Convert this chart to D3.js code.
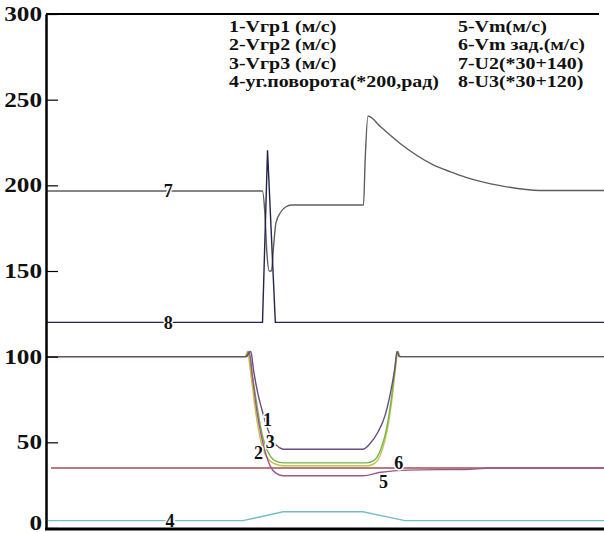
<!DOCTYPE html>
<html>
<head>
<meta charset="utf-8">
<script src="https://cdn.jsdelivr.net/npm/d3@7"></script>
<style>
  body { margin: 0; background: #fff; overflow: hidden; }
  svg { display: block; }
</style>
</head>
<body>
<script>
const width = 604
const height = 533
const margin = {top: 14, right: 0, bottom: 5, left: 46}
const serif = "'Liberation Serif', 'Times New Roman', Times, serif"

// time, s
const yTicks = [0, 50, 100, 150, 200, 250, 300]

// 1 - Vгр1
const t1 = [0, 3.58, 3.67, 3.72, 3.80, 3.87, 3.97, 4.08, 4.18, 4.25, 5.68, 5.80, 5.95, 6.08, 6.18, 6.25, 6.29, 6.33, 10]
const v1 = [100, 100, 103, 92, 78, 69, 58, 50, 47, 46, 46, 49, 56, 66, 80, 93, 103, 100, 100]
// 2 - Vгр2
const t2 = [0, 3.57, 3.61, 3.67, 3.74, 3.81, 3.89, 3.99, 4.10, 4.25, 5.77, 5.90, 6.02, 6.12, 6.20, 6.26, 6.31, 6.35, 10]
const v2 = [100, 100, 103, 90, 72, 57, 46, 40, 37.5, 36.3, 36.3, 38, 45, 58, 75, 92, 103, 100, 100]
// 3 - Vгр3
const t3 = [0, 3.58, 3.63, 3.69, 3.77, 3.84, 3.92, 4.02, 4.12, 4.25, 5.74, 5.88, 6.00, 6.11, 6.19, 6.25, 6.30, 6.34, 10]
const v3 = [100, 100, 103, 91, 74, 60, 49, 42, 39, 38, 38, 39.5, 46, 59, 76, 92, 103, 100, 100]
// 4 - угол поворота
const t4 = [0.04, 3.53, 4.25, 5.68, 6.43, 10]
const v4 = [4.3, 4.3, 9.5, 9.5, 4.3, 4.3]
// 5 - Vm
const t5 = [0, 3.60, 3.64, 3.70, 3.78, 3.87, 3.95, 4.02, 4.12, 4.25, 5.68, 6.00, 6.50, 7.60, 8.00, 10]
const v5 = [100, 100, 103, 88, 68, 52, 42, 36, 32, 30.5, 30.5, 32.5, 33.8, 34.3, 35, 35]
// 6 - Vm зад.
const t6 = [0.09, 10]
const v6 = [35, 35]
// 7 - U2
const t7 = [0, 3.88, 3.92, 3.96, 4.00, 4.04, 4.08, 4.12, 4.20, 4.30, 4.40, 5.69, 5.72, 5.77, 6.00, 6.34, 6.94, 7.24, 7.54, 8.14, 8.85, 10]
const v7 = [196.7, 196.7, 185, 160, 150, 150, 165, 178, 184, 187.5, 188.5, 188.5, 215, 240.5, 234, 224.6, 212, 208, 204.5, 199.8, 197, 197]
// 8 - U3
const t8 = [0, 3.88, 3.97, 4.11, 10]
const v8 = [120, 120, 220.5, 120, 120]

const legendLeft = ["1-Vгр1 (м/с)", "2-Vгр2 (м/с)", "3-Vгр3 (м/с)", "4-уг.поворота(*200,рад)"]
const legendRight = ["5-Vm(м/с)", "6-Vm зад.(м/с)", "7-U2(*30+140)", "8-U3(*30+120)"]

const series = [
  {t: t4, v: v4, color: "#74bccb", curve: d3.curveLinear},
  {t: t6, v: v6, color: "#9c5252", curve: d3.curveLinear},
  {t: t2, v: v2, color: "#c4c244", curve: d3.curveMonotoneX},
  {t: t3, v: v3, color: "#74b64e", curve: d3.curveMonotoneX},
  {t: t5, v: v5, color: "#a05588", curve: d3.curveMonotoneX},
  {t: t1, v: v1, color: "#6a4c80", curve: d3.curveMonotoneX},
  {t: t7, v: v7, color: "#5e5e5e", curve: d3.curveMonotoneX},
  {t: t8, v: v8, color: "#23234c", curve: d3.curveLinear}
]

// curve labels: name, t, value
const labels = [
  {name: "7", t: 2.19, v: 196.7},
  {name: "8", t: 2.19, v: 120},
  {name: "4", t: 2.22, v: 4.3},
  {name: "1", t: 3.97, v: 63},
  {name: "3", t: 4.02, v: 50.5},
  {name: "2", t: 3.81, v: 44.2},
  {name: "6", t: 6.32, v: 38.3},
  {name: "5", t: 6.05, v: 27.2}
]

var svg = d3.select("body").append("svg")
            .attr("width", width)
            .attr("height", height)

var x = d3.scaleLinear().domain([0, 10]).range([margin.left, width])
var y = d3.scaleLinear().domain([0, 300]).range([528, margin.top])

series.forEach(s => {
  var line = d3.line()
               .x(d => x(d[0]))
               .y(d => y(d[1]))
               .curve(s.curve)
  svg.append("path")
     .datum(d3.zip(s.t, s.v))
     .attr("d", line)
     .attr("fill", "none")
     .attr("stroke", s.color)
     .attr("stroke-width", 1.4)
})

svg.selectAll(".lbl")
   .data(labels)
   .enter().append("text")
   .attr("class", "lbl")
   .attr("x", d => x(d.t))
   .attr("y", d => y(d.v))
   .attr("dy", "0.35em")
   .attr("text-anchor", "middle")
   .style("font-family", serif)
   .style("font-weight", "bold")
   .style("font-size", "18px")
   .attr("fill", "#111")
   .attr("stroke", "#fff")
   .attr("stroke-width", 3)
   .attr("paint-order", "stroke")
   .text(d => d.name)

// axes
var yAxis = d3.axisLeft(y)
              .tickValues(yTicks)
              .tickSize(-12)
              .tickSizeOuter(0)
              .tickPadding(4)

var ga = svg.append("g")
            .attr("transform", "translate(" + margin.left + ",0)")
            .call(yAxis)
ga.select(".domain").attr("stroke-width", 2.5).attr("stroke", "#000")
ga.selectAll(".tick line").attr("stroke", "#000").attr("stroke-width", 1.2)
ga.selectAll(".tick text")
  .style("font-family", serif)
  .style("font-weight", "bold")
  .style("font-size", "20px")
  .attr("fill", "#111")
  .attr("textLength", d => String(d).length * 12.6)
  .attr("lengthAdjust", "spacingAndGlyphs")
  .attr("dy", d => d === 0 ? "0.08em" : "0.32em")

svg.append("line")
   .attr("x1", margin.left).attr("x2", width - 5)
   .attr("y1", y(300)).attr("y2", y(300))
   .attr("stroke", "#000").attr("stroke-width", 2)

svg.append("line")
   .attr("x1", margin.left - 1).attr("x2", width)
   .attr("y1", y(0) + 1).attr("y2", y(0) + 1)
   .attr("stroke", "#000").attr("stroke-width", 3)

// legend
var leg = svg.append("g").attr("fill", "#111")
leg.selectAll(".l1").data(legendLeft).enter().append("text")
   .attr("x", 229).attr("y", (d, i) => 32 + i * 18.3)
   .text(d => d)
leg.selectAll(".l2").data(legendRight).enter().append("text")
   .attr("x", 458).attr("y", (d, i) => 32 + i * 18.3)
   .text(d => d)
var legText = leg.selectAll("text")
   .style("font-family", serif)
   .style("font-weight", "bold")
   .style("font-size", "17px")
var stretch = 210 / legText.filter((d, i) => i === 3).node().getComputedTextLength()
legText.each(function() {
  var len = this.getComputedTextLength()
  d3.select(this).attr("textLength", len * stretch).attr("lengthAdjust", "spacingAndGlyphs")
})
</script>
</body>
</html>
